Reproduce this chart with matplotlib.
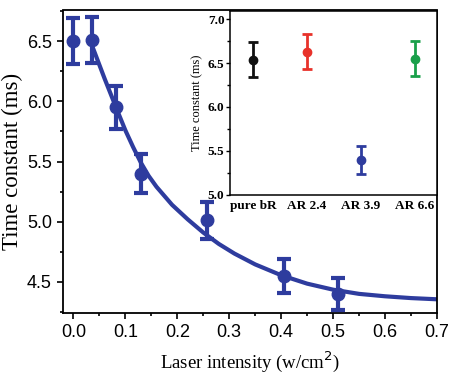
import matplotlib.pyplot as plt
from matplotlib.ticker import MultipleLocator

# main data: decay time vs laser intensity
intensity = [0.0, 0.035, 0.082, 0.130, 0.258, 0.406, 0.510]
tau = [6.50, 6.51, 5.95, 5.40, 5.01, 4.55, 4.40]
tau_err = [0.19, 0.19, 0.18, 0.16, 0.15, 0.14, 0.13]

# fitted curve
fit_x = [0.038, 0.06, 0.083, 0.10, 0.115, 0.13, 0.145, 0.16, 0.19, 0.22, 0.25,
         0.28, 0.31, 0.35, 0.40, 0.45, 0.50, 0.55, 0.60, 0.65, 0.70]
fit_y = [6.44, 6.19, 5.94, 5.76, 5.62, 5.49, 5.38, 5.29, 5.14, 5.02, 4.91,
         4.815, 4.735, 4.645, 4.555, 4.485, 4.435, 4.40, 4.38, 4.365, 4.355]

# inset data
samples = ["pure bR", "AR 2.4", "AR 3.9", "AR 6.6"]
sample_tau = [6.54, 6.63, 5.40, 6.55]
sample_err = [0.20, 0.20, 0.16, 0.20]
sample_colors = ["#111111", "#e8322a", "#2e3c9e", "#1aa04a"]

blue = "#2e3c9e"
serif = ["Liberation Serif", "DejaVu Serif"]

fig = plt.figure(figsize=(4.5, 3.75), dpi=100)
ax = fig.add_axes([0.14, 0.165, 0.831, 0.807])

ax.plot(fit_x, fit_y, color=blue, lw=3, solid_joinstyle="round", zorder=2)
ax.errorbar(intensity, tau, yerr=tau_err, fmt="o", color=blue, ms=9,
            elinewidth=3, capsize=5, capthick=3, zorder=3)

ax.set_xlim(-0.02, 0.7)
ax.set_ylim(4.24, 6.755)
ax.xaxis.set_major_locator(MultipleLocator(0.1))
ax.xaxis.set_minor_locator(MultipleLocator(0.05))
ax.yaxis.set_major_locator(MultipleLocator(0.5))
ax.yaxis.set_minor_locator(MultipleLocator(0.25))
ax.tick_params(which="both", direction="out", width=1.2, top=False, right=False)
ax.tick_params(which="major", length=4, labelsize=13, pad=4)
ax.tick_params(which="minor", length=2.5)
for lab in ax.get_xticklabels() + ax.get_yticklabels():
    lab.set_family(["Liberation Sans", "DejaVu Sans"])
for sp in ax.spines.values():
    sp.set_linewidth(1.3)

ax.set_xlabel("Laser intensity (w/cm$^2$)", family=serif, fontsize=13.5, labelpad=6)
ax.set_ylabel("Time constant (ms)", family=serif, fontsize=16.5, labelpad=3)

# inset
ins = fig.add_axes([0.511, 0.481, 0.46, 0.491])
for i, (v, e, c) in enumerate(zip(sample_tau, sample_err, sample_colors)):
    ins.errorbar(i + 1, v, yerr=e, fmt="o", color=c, ms=6,
                 elinewidth=2, capsize=3.5, capthick=2)
ins.set_xlim(0.57, 4.41)
ins.set_ylim(5.0, 7.1)
ins.set_xticks(range(1, len(samples) + 1))
ins.set_xticklabels(samples, family=serif, fontsize=9.5, fontweight="bold")
ins.yaxis.set_major_locator(MultipleLocator(0.5))
ins.yaxis.set_minor_locator(MultipleLocator(0.25))
ins.tick_params(axis="x", length=0, pad=4)
ins.tick_params(axis="y", which="both", direction="out", width=1)
ins.tick_params(axis="y", which="major", length=3, labelsize=9.5, pad=1)
ins.tick_params(axis="y", which="minor", length=2)
for lab in ins.get_yticklabels():
    lab.set_family(serif)
    lab.set_fontweight("bold")
ins.set_ylabel("Time constant (ms)", family=serif, fontsize=9, labelpad=3)
for sp in ins.spines.values():
    sp.set_linewidth(1.1)

fig.savefig("out.png", dpi=100)
